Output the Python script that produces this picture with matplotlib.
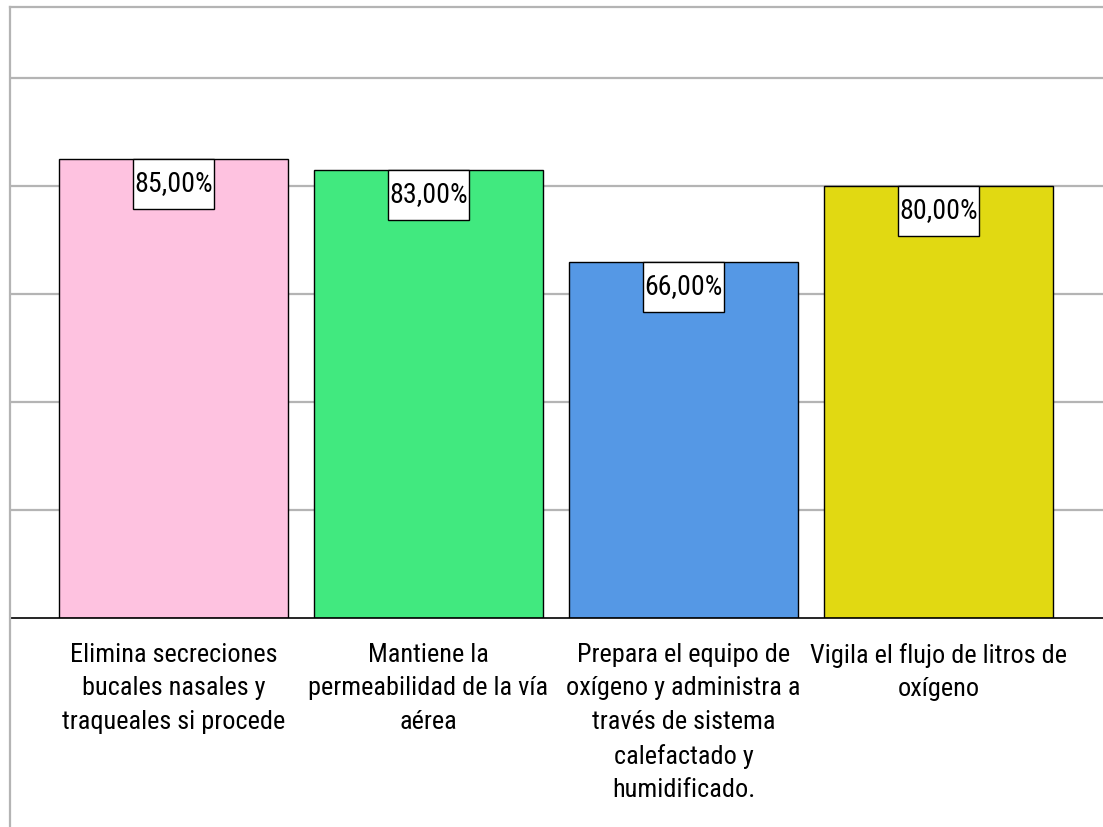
import matplotlib
matplotlib.use("Agg")
import matplotlib.pyplot as plt
from matplotlib import font_manager
from matplotlib.font_manager import FontProperties
from matplotlib.path import Path
from matplotlib.lines import Line2D

categories = [
    "Elimina secreciones\nbucales nasales y\ntraqueales si procede",
    "Mantiene la\npermeabilidad de la vía\naérea",
    "Prepara el equipo de\noxígeno y administra a\ntravés de sistema\ncalefactado y\nhumidificado.",
    "Vigila el flujo de litros de\noxígeno",
]
values = [85.0, 83.0, 66.0, 80.0]
value_labels = ["85,00%", "83,00%", "66,00%", "80,00%"]
colors = ["#FEC2E0", "#41E97F", "#5598E5", "#E1D912"]

# pick a condensed sans font if one is installed
fp = None
prefs = ["liberation sans narrow", "arial narrow", "roboto condensed",
         "open sans condensed", "dejavu sans condensed", "noto sans condensed"]
entries = font_manager.fontManager.ttflist
for pref in prefs:
    for f in entries:
        key = (f.name + " " + str(f.stretch) + " " + f.fname).lower()
        base = pref.split()[0]
        if base in key and ("narrow" in key or "condensed" in key) \
                and f.style == "normal" and f.weight in (400, "normal", "regular") \
                and "bold" not in f.fname.lower() and "oblique" not in f.fname.lower() \
                and "italic" not in f.fname.lower():
            fp = FontProperties(fname=f.fname)
            break
    if fp is not None:
        break
if fp is None:
    fp = FontProperties(family="Liberation Sans")

W, H = 1103, 827
fig = plt.figure(figsize=(W / 100, H / 100), dpi=100)
renderer = fig.canvas.get_renderer()


def fit_size(s, target_px):
    t = fig.text(0, 0, s, fontproperties=fp, fontsize=20)
    w = t.get_window_extent(renderer).width
    t.remove()
    return 20 * target_px / w


cat_size = fit_size("Elimina secreciones", 207)
val_size = fit_size("85,00%", 78)

ax = fig.add_axes([10 / W, (H - 618) / H, (W - 10) / W, (618 - 7) / H])

x = list(range(len(categories)))
ax.bar(x, values, width=0.9, color=colors, edgecolor="black", linewidth=1.0, zorder=3)

ax.set_xlim(-0.641, 3.645)
ax.set_ylim(0, 113.15)
ax.set_yticks([20, 40, 60, 80, 100])
ax.set_yticklabels([])
ax.grid(axis="y", color="#B4B4B4", linewidth=1.6, zorder=0)
ax.tick_params(length=0)
ax.set_xticks(x)
ax.set_xticklabels(categories)
for t in ax.get_xticklabels():
    t.set_fontproperties(fp)
    t.set_fontsize(cat_size)
    t.set_linespacing(1.50)
ax.tick_params(axis="x", pad=18)
for s in ["left", "right", "top"]:
    ax.spines[s].set_visible(False)
ax.spines["bottom"].set_color("black")
ax.spines["bottom"].set_linewidth(1.2)
ax.spines["bottom"].set_zorder(4)

PX, PY = 1.5, 11.5


def label_box(x0, y0, width, height, mutation_size):
    x0 -= PX
    x1 = x0 + width + 2 * PX
    y0 -= PY
    y1 = y0 + height + 2 * PY
    return Path([(x0, y0), (x1, y0), (x1, y1), (x0, y1), (x0, y0)], closed=True)


for xi, v, lab in zip(x, values, value_labels):
    ax.annotate(lab, xy=(xi, v), xytext=(0, -PY * 0.72), textcoords="offset points",
                ha="center", va="top", fontproperties=fp, fontsize=val_size, zorder=5,
                bbox=dict(boxstyle=label_box, fc="white", ec="black", lw=1.0))

# outer frame lines (top and left)
fig.add_artist(Line2D([10 / W, 10 / W], [0, (H - 7) / H], color="#B4B4B4", lw=1.6,
                      transform=fig.transFigure))
fig.add_artist(Line2D([10 / W, 1], [(H - 7) / H, (H - 7) / H], color="#B4B4B4", lw=1.6,
                      transform=fig.transFigure))

fig.savefig("out.png", dpi=100)
